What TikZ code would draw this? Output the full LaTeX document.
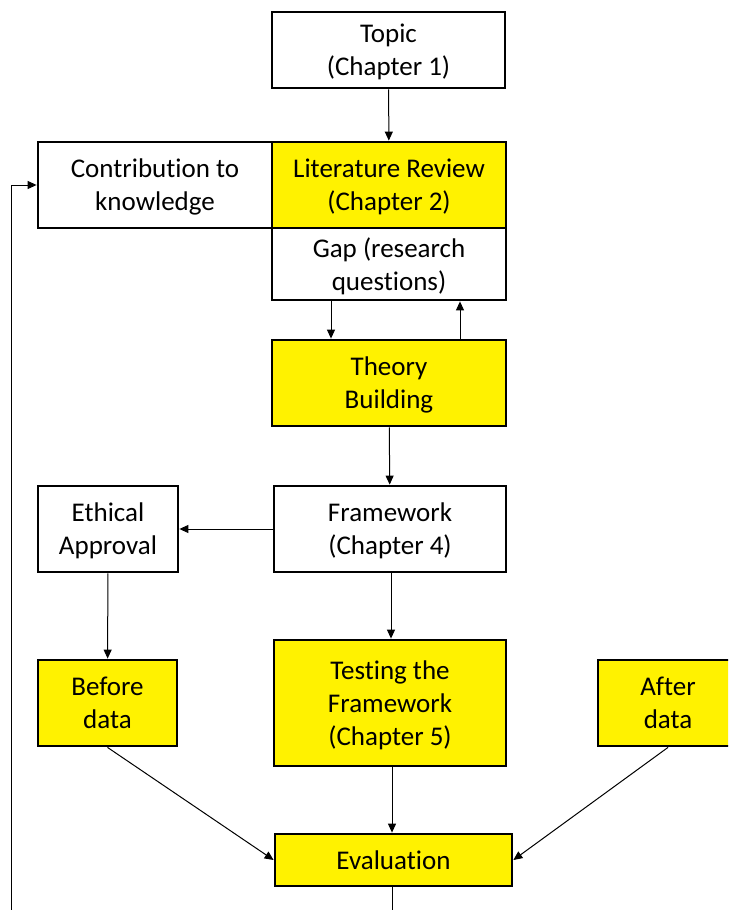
\documentclass[tikz,border=0pt]{standalone}
\usepackage{fontspec}
\setmainfont{Carlito}[Ligatures={NoCommon}]
\usetikzlibrary{arrows.meta}
\begin{document}
\begin{tikzpicture}[x=1pt,y=-1pt,
  box/.style={draw=black,line width=2.8pt,inner sep=0pt,align=center,
    text depth=0pt,font=\fontsize{27}{33}\selectfont},
  hl/.style={box,fill=yellow},
  plain/.style={box,fill=white},
  arr/.style={line width=1pt,-{Triangle[length=9pt,width=8pt]}},
  ln/.style={line width=1pt}]
\useasboundingbox (0,0) rectangle (728,910);
\clip (0,0) rectangle (728,910);
\fill[white] (0,0) rectangle (728,910);

% boxes: centre and size
\node[plain,minimum width=233pt,minimum height=76pt] (topic) at (388.5,50) {Topic\\(Chapter 1)};
\node[plain,minimum width=234pt,minimum height=86pt] (contrib) at (155,185) {Contribution to\\knowledge};
\node[hl,minimum width=234pt,minimum height=86pt] (litrev) at (389,185) {Literature Review\\(Chapter 2)};
\node[plain,minimum width=234pt,minimum height=72pt] (gap) at (389,264) {Gap (research\\questions)};
\node[hl,minimum width=234pt,minimum height=86pt] (theory) at (389,383) {Theory\\Building};
\node[plain,minimum width=232pt,minimum height=86pt] (frame) at (390,529) {Framework\\(Chapter 4)};
\node[plain,minimum width=140pt,minimum height=86pt] (ethics) at (108,529) {Ethical\\Approval};
\node[hl,minimum width=139pt,minimum height=86pt] (before) at (107.5,703) {Before\\data};
\node[hl,minimum width=232pt,minimum height=126pt] (testing) at (390,703) {Testing the\\Framework\\(Chapter 5)};
\node[hl,minimum width=140pt,minimum height=86pt] (after) at (668,703) {After\\data};
\node[hl,minimum width=237pt,minimum height=52pt] (eval) at (393.5,860) {Evaluation};

% free ends of the open connectors
\coordinate (fb) at (11,910);
\coordinate (out) at (392,910);

% connectors
\draw[arr] (topic) -- (litrev);
\draw[arr] (gap.south -| 331,0) -- (theory.north -| 331,0);
\draw[arr] (theory.north -| 460,0) -- (gap.south -| 460,0);
\draw[arr] (theory) -- (frame);
\draw[arr] (frame) -- (ethics);
\draw[arr] (ethics) -- (before);
\draw[arr] (frame.south -| 391,0) -- (testing.north -| 391,0);
\draw[arr] (testing.south -| 392,0) -- (eval.north -| 392,0);
\draw[arr] (before.south) -- (eval.west);
\draw[arr] (after.south) -- (eval.east);
\draw[ln] (eval.south -| out) -- (out);
\draw[arr] (fb) |- (contrib.west);
\end{tikzpicture}
\end{document}
